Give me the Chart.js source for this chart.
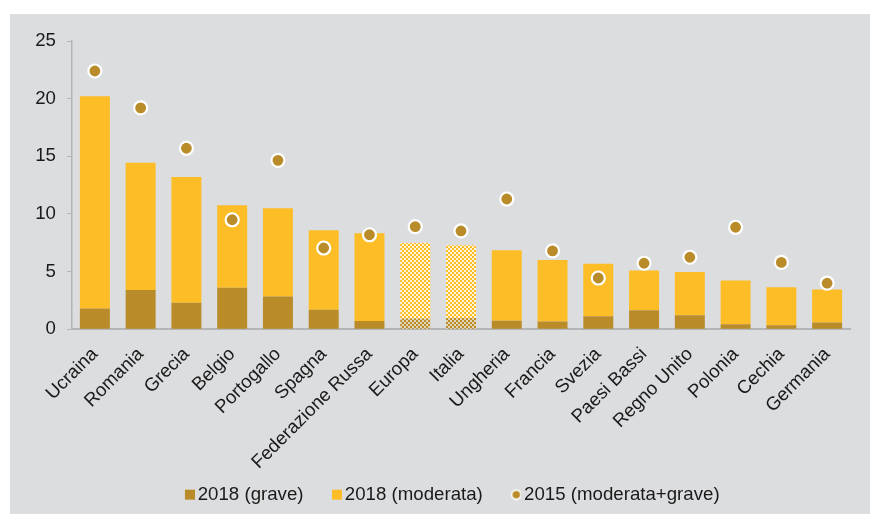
<!DOCTYPE html>
<html>
<head>
<meta charset="utf-8">
<script src="https://cdn.jsdelivr.net/npm/chart.js@4/dist/chart.umd.min.js"></script>
<style>
body{margin:0;background:#fff}
#wrap{position:absolute;left:10px;top:14px;width:860px;height:500px;background:#dcdddf}
</style>
</head>
<body>
<div id="wrap"><canvas id="chart" width="860" height="500"></canvas></div>
<script>
const categories = ["Ucraina","Romania","Grecia","Belgio","Portogallo","Spagna","Federazione Russa","Europa","Italia","Ungheria","Francia","Svezia","Paesi Bassi","Regno Unito","Polonia","Cechia","Germania"]
const grave2018 = [1.8,3.4,2.3,3.6,2.85,1.7,0.72,0.93,0.98,0.75,0.67,1.13,1.65,1.22,0.43,0.35,0.6]
const moderata2018 = [18.4,11.05,10.9,7.15,7.65,6.9,7.6,6.55,6.3,6.1,5.35,4.55,3.45,3.75,3.8,3.3,2.85]
const totale2015 = [22.4,19.2,15.7,9.5,14.65,7.05,8.2,8.9,8.53,11.3,6.8,4.45,5.73,6.25,8.85,5.8,4.0]
const yTicks = [0,5,10,15,20,25]
const hatched = ["Europa","Italia"]

const GOLD = '#b98c29'
const YELLOW = '#fdbd27'
const AXIS = '#b4b5b7'
const TEXT = '#1a1a1a'

const ctx = document.getElementById('chart').getContext('2d')

// checkered fill used for the Europa / Italia bars
function checker(c1, c2){
    const p = document.createElement('canvas')
    p.width = 4; p.height = 4
    const g = p.getContext('2d')
    g.fillStyle = c2; g.fillRect(0,0,4,4)
    g.fillStyle = c1; g.fillRect(0,0,2,2); g.fillRect(2,2,2,2)
    return ctx.createPattern(p, 'repeat')
}
const gravePattern = checker(GOLD, '#e3d6b6')
const moderataPattern = checker(YELLOW, '#fff4d6')

// legend markers: marker sits at the right end so it hugs its text
function marker(kind, color){
    const c = document.createElement('canvas')
    c.width = 37; c.height = 12
    const g = c.getContext('2d')
    if (kind === 'dot') {
        g.beginPath(); g.arc(32, 6, 4.6, 0, Math.PI*2)
        g.fillStyle = color; g.fill()
        g.lineWidth = 1.6; g.strokeStyle = '#fff'; g.stroke()
    } else {
        g.fillStyle = color; g.fillRect(27, 1, 10, 10)
    }
    return c
}
const legendMarkers = [marker('rect', GOLD), marker('rect', YELLOW), marker('dot', GOLD)]

const font = {family: "'Liberation Sans', Arial, sans-serif", size: 18.67}

const shiftLegend = {
    id: 'shiftLegend',
    afterLayout(chart){
        chart.legend.left += 12
        chart.legend.right += 12
    }
}

new Chart(ctx, {
    type: 'bar',
    data: {
        labels: categories,
        datasets: [
            {
                label: '2018 (grave)',
                data: grave2018,
                backgroundColor: categories.map(c => hatched.includes(c) ? gravePattern : GOLD),
                stack: 's',
                categoryPercentage: 0.655,
                barPercentage: 1,
            },
            {
                label: '2018 (moderata)',
                data: moderata2018,
                backgroundColor: categories.map(c => hatched.includes(c) ? moderataPattern : YELLOW),
                stack: 's',
                categoryPercentage: 0.655,
                barPercentage: 1,
            },
            {
                type: 'line',
                label: '2015 (moderata+grave)',
                data: totale2015,
                stack: 'dots',
                showLine: false,
                order: -1,
                pointStyle: 'circle',
                pointRadius: 6.5,
                pointHoverRadius: 6.5,
                pointBorderWidth: 2.2,
                pointBackgroundColor: GOLD,
                pointBorderColor: '#fff',
                backgroundColor: GOLD,
                borderColor: '#fff',
            }
        ]
    },
    plugins: [shiftLegend],
    options: {
        responsive: false,
        devicePixelRatio: 1,
        animation: false,
        layout: {padding: {left: 0, right: 20, top: 27, bottom: 0}},
        plugins: {
            tooltip: {enabled: false},
            legend: {
                position: 'bottom',
                labels: {
                    usePointStyle: true,
                    pointStyleWidth: 24,
                    boxHeight: 10,
                    padding: 8,
                    color: TEXT,
                    font: font,
                    sort: (a, b) => a.datasetIndex - b.datasetIndex,
                    generateLabels: chart => {
                        const items = Chart.defaults.plugins.legend.labels.generateLabels(chart)
                        items.forEach(it => { it.pointStyle = legendMarkers[it.datasetIndex] })
                        return items
                    }
                }
            }
        },
        scales: {
            x: {
                stacked: true,
                grid: {display: false, drawTicks: true, tickLength: 6},
                border: {display: true, color: AXIS, width: 2},
                ticks: {color: TEXT, font: font, maxRotation: 45, minRotation: 45, autoSkip: false, padding: 8},
                afterFit: s => { s.height = 148 }
            },
            y: {
                stacked: true,
                min: 0,
                max: 25,
                afterBuildTicks: s => { s.ticks = yTicks.map(v => ({value: v})) },
                grid: {drawOnChartArea: false, tickLength: 5, color: AXIS},
                border: {color: AXIS, width: 1.5},
                ticks: {color: TEXT, font: font, padding: 11},
                afterFit: s => { s.width = 62 }
            }
        }
    }
})
</script>
</body>
</html>
